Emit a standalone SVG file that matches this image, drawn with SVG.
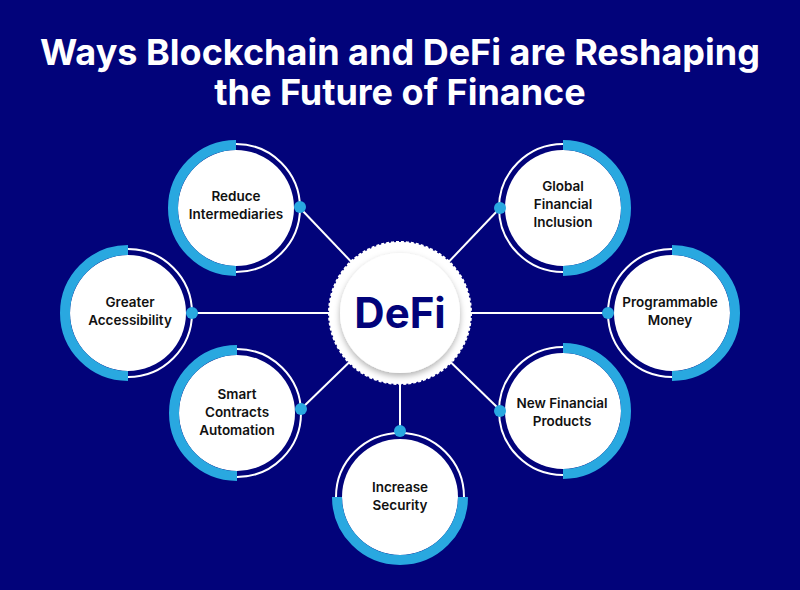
<svg xmlns="http://www.w3.org/2000/svg" width="800" height="590" viewBox="0 0 800 590">
<defs>
<style>
.t{font-family:Inter,"Liberation Sans",sans-serif;font-weight:700;fill:#fff;font-size:36px;text-anchor:middle}
.l{font-family:Inter,"Liberation Sans",sans-serif;font-weight:600;fill:#111;font-size:13.5px;text-anchor:middle}
.ring{fill:none;stroke:#fff;stroke-width:2}
.disk{fill:#fff}
.arc{fill:none;stroke:#29a8e0;stroke-width:10}
.dot{fill:#29a8e0}
.c{stroke:#fff;stroke-width:2}
</style>
<filter id="sh" x="-20%" y="-20%" width="140%" height="140%"><feDropShadow dx="0" dy="3" stdDeviation="3" flood-color="#000" flood-opacity="0.3"/></filter>
</defs>
<rect width="800" height="590" fill="#02037a"/>
<text class="t" x="400" y="65">Ways Blockchain and DeFi are Reshaping</text>
<text class="t" x="400" y="105">the Future of Finance</text>
<g id="connectors">
<line class="c" x1="300" y1="208" x2="400" y2="313"/>
<line class="c" x1="500" y1="208" x2="400" y2="313"/>
<line class="c" x1="192" y1="313" x2="608" y2="313"/>
<line class="c" x1="300" y1="410" x2="400" y2="313"/>
<line class="c" x1="500" y1="410" x2="400" y2="313"/>
<line class="c" x1="400" y1="313" x2="400" y2="430"/>
</g>
<g id="center">
<circle cx="400" cy="313" r="71" fill="#fff" stroke="#fff" stroke-width="2" stroke-dasharray="3 2"/>
<circle cx="400" cy="313" r="60" fill="#fff" filter="url(#sh)"/>
<text x="400" y="328" style="font-family:Inter,'Liberation Sans',sans-serif;font-weight:700;font-size:42px;fill:#02037a;text-anchor:middle">DeFi</text>
</g>
<g id="n1">
<circle class="ring" cx="236" cy="208" r="64"/><circle class="disk" cx="236" cy="208" r="58"/>
<path class="arc" d="M236,145 A63,63 0 0 0 236,271"/><circle class="dot" cx="300" cy="207" r="6"/>
<text class="l" x="236" y="201">Reduce</text><text class="l" x="236" y="219">Intermediaries</text>
</g>
<g id="n2">
<circle class="ring" cx="128" cy="313" r="64"/><circle class="disk" cx="128" cy="313" r="58"/>
<path class="arc" d="M128,250 A63,63 0 0 0 128,376"/><circle class="dot" cx="192" cy="313" r="6"/>
<text class="l" x="130" y="307">Greater</text><text class="l" x="130" y="325">Accessibility</text>
</g>
<g id="n3">
<circle class="ring" cx="237" cy="413" r="64"/><circle class="disk" cx="237" cy="413" r="58"/>
<path class="arc" d="M237,350 A63,63 0 0 0 237,476"/><circle class="dot" cx="301" cy="409" r="6"/>
<text class="l" x="237" y="399">Smart</text><text class="l" x="237" y="417">Contracts</text><text class="l" x="237" y="435">Automation</text>
</g>
<g id="n4">
<circle class="ring" cx="400" cy="497" r="64"/><circle class="disk" cx="400" cy="497" r="58"/>
<path class="arc" d="M337,497 A63,63 0 0 0 463,497"/><circle class="dot" cx="400" cy="431" r="6"/>
<text class="l" x="400" y="492">Increase</text><text class="l" x="400" y="510">Security</text>
</g>
<g id="n5">
<circle class="ring" cx="563" cy="411" r="64"/><circle class="disk" cx="563" cy="411" r="58"/>
<path class="arc" d="M563,348 A63,63 0 0 1 563,474"/><circle class="dot" cx="500" cy="411" r="6"/>
<text class="l" x="562" y="408">New Financial</text><text class="l" x="562" y="426">Products</text>
</g>
<g id="n6">
<circle class="ring" cx="672" cy="313" r="64"/><circle class="disk" cx="672" cy="313" r="58"/>
<path class="arc" d="M672,250 A63,63 0 0 1 672,376"/><circle class="dot" cx="608" cy="313" r="6"/>
<text class="l" x="670" y="307">Programmable</text><text class="l" x="670" y="325">Money</text>
</g>
<g id="n7">
<circle class="ring" cx="563" cy="208" r="64"/><circle class="disk" cx="563" cy="208" r="58"/>
<path class="arc" d="M563,145 A63,63 0 0 1 563,271"/><circle class="dot" cx="500" cy="208" r="6"/>
<text class="l" x="563" y="191">Global</text><text class="l" x="563" y="209">Financial</text><text class="l" x="563" y="227">Inclusion</text>
</g>
</svg>
